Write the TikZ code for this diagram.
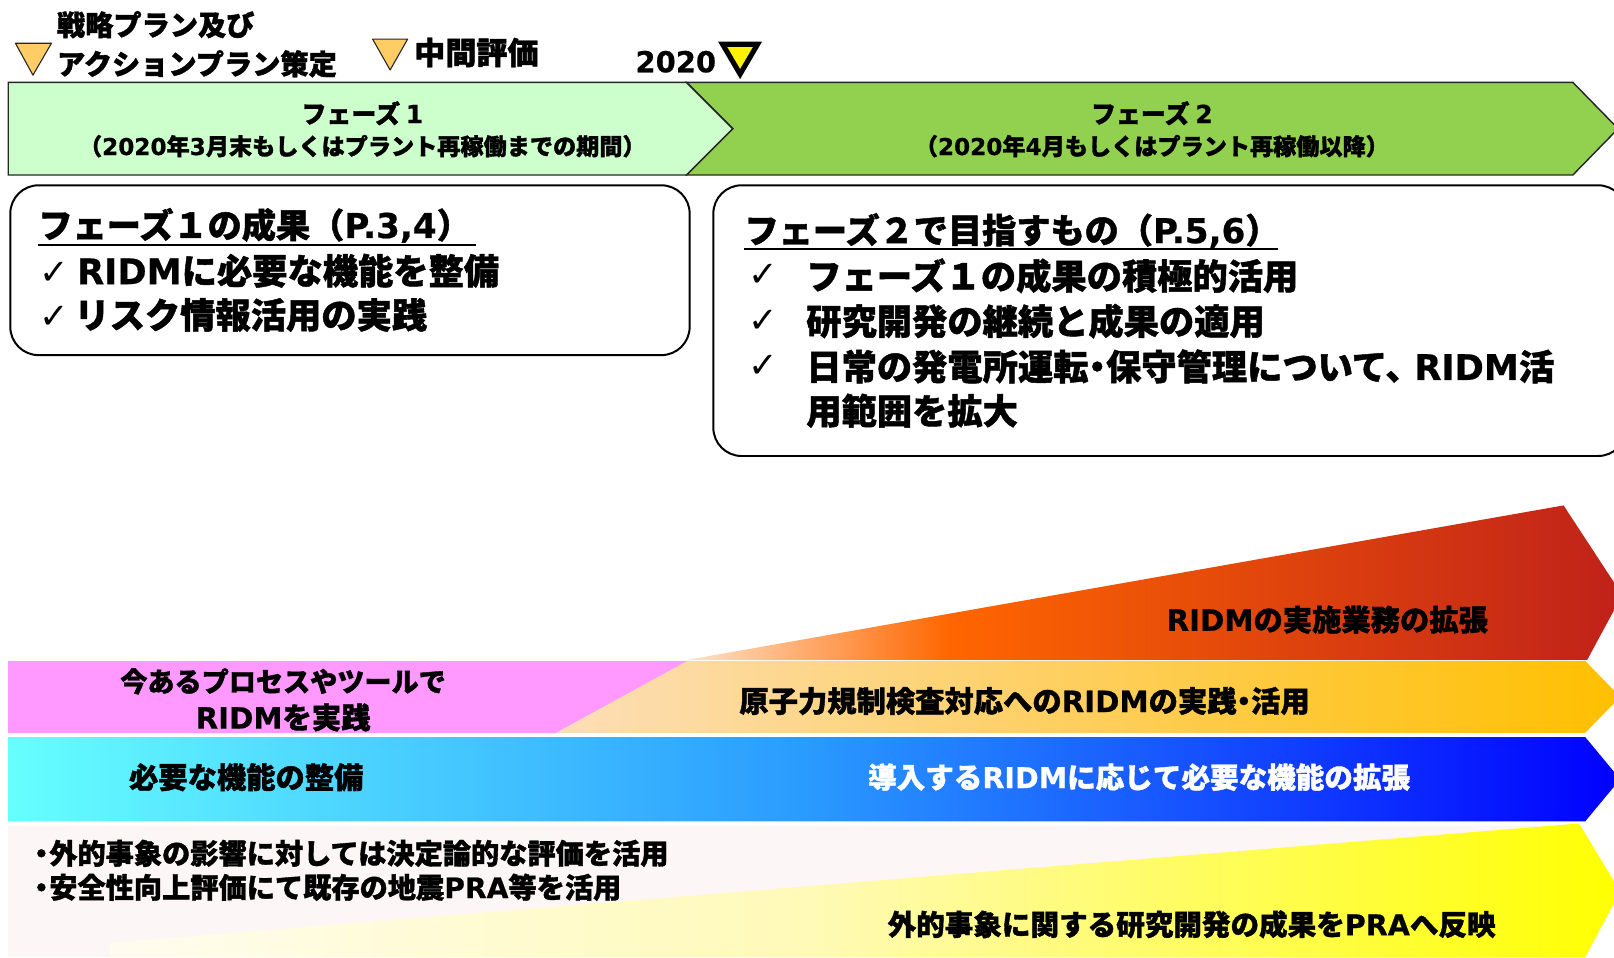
\documentclass[tikz,border=0pt]{standalone}
\usepackage{fontspec}
\setmainfont{Noto Sans CJK JP}[BoldFeatures={FakeBold=1.3}]
\newfontfamily\latf{DejaVu Sans}[BoldFeatures={FakeBold=0.6}]
\newfontfamily\symf{DejaVu Sans}
\newcommand\lt[1]{{\latf #1}}
\newcommand\ck{{\symf\mdseries ✓}}
\newcommand\nd{\hspace{-0.25em}・\hspace{-0.25em}}
\newcommand\bd{\hspace{-0.25em}・\hspace{-0.22em}}
\definecolor{pgreenA}{HTML}{CCFFCC}
\definecolor{pgreenB}{HTML}{92D050}
\definecolor{trior}{HTML}{FFCC66}
\definecolor{pinkbar}{HTML}{FF99FF}
\definecolor{palebg}{HTML}{FDF6F6}
\pgfdeclarehorizontalshading{redsh}{100bp}{rgb(0bp)=(1,0.89,0.78); rgb(25bp)=(1,0.89,0.78); rgb(39bp)=(1,0.4,0); rgb(75bp)=(0.75,0.13,0.10); rgb(100bp)=(0.75,0.13,0.10)}
\pgfdeclarehorizontalshading{orsh}{100bp}{rgb(0bp)=(0.99,0.87,0.72); rgb(25bp)=(0.99,0.87,0.72); rgb(75bp)=(1,0.75,0); rgb(100bp)=(1,0.75,0)}
\pgfdeclarehorizontalshading{blsh}{100bp}{rgb(0bp)=(0.4,1,1); rgb(25bp)=(0.4,1,1); rgb(49.6bp)=(0.165,0.61,1); rgb(75bp)=(0,0,1); rgb(100bp)=(0,0,1)}
\pgfdeclarehorizontalshading{ylsh}{100bp}{rgb(0bp)=(1,0.99,0.94); rgb(25bp)=(1,0.99,0.94); rgb(48bp)=(1,0.98,0.72); rgb(75bp)=(1,1,0); rgb(100bp)=(1,1,0)}
\begin{document}
\begin{tikzpicture}[x=0.02cm,y=-0.02cm,
  every node/.style={inner sep=0pt},
  tri/.style={fill=trior,draw=black!85,line width=0.6pt,line join=round},
  toplbl/.style={anchor=west,font=\fontsize{15.6}{18}\selectfont\bfseries},
  midlbl/.style={anchor=west,font=\fontsize{17.2}{20}\selectfont\bfseries},
  yrlbl/.style={anchor=east,font=\fontsize{16}{19}\selectfont\bfseries\latf},
  phasebar/.style={draw=black!85,line width=0.8pt,line join=miter},
  phh/.style={font=\fontsize{13.8}{16}\selectfont\bfseries},
  phs/.style={font=\fontsize{12.8}{15}\selectfont\bfseries},
  roundbox/.style={draw=black,fill=white,line width=1.1pt,rounded corners=0.55cm},
  boxt/.style={anchor=west,font=\fontsize{18.9}{22}\selectfont\bfseries},
  boxi/.style={anchor=west,font=\fontsize{19.5}{23}\selectfont\bfseries},
  uline/.style={line width=1.1pt},
  bart/.style={font=\fontsize{16.2}{19}\selectfont\bfseries},
  bartw/.style={font=\fontsize{15.8}{19}\selectfont\bfseries},
  pinkt/.style={font=\fontsize{15}{18}\selectfont\bfseries},
  bullt/.style={anchor=west,font=\fontsize{15.6}{18}\selectfont\bfseries}]
\useasboundingbox (0,0) rectangle (1568,930);
\fill[white] (0,0) rectangle (1568,930);
\clip (0,0) rectangle (1568,930);

% top markers
\draw[tri] (15,42) -- (50,42) -- (32,73) -- cycle;
\node[toplbl] (lblA1) at (55,24) {戦略プラン及び};
\node[toplbl] (lblA2) at (55,62) {アクションプラン策定};
\draw[tri] (362,38) -- (396,38) -- (379,68) -- cycle;
\node[midlbl] (lblB) at (402,51) {中間評価};
\node[yrlbl] (lblC) at (696,60) {2020};
\draw[fill=yellow,draw=black,line width=2.8pt,line join=miter] (702,43) -- (736,43) -- (719,72) -- cycle;

% phase bars
\draw[phasebar,fill=pgreenA] (8,80) -- (667,80) -- (712,125) -- (667,170) -- (8,170) -- cycle;
\draw[phasebar,fill=pgreenB] (667,80) -- (1528,80) -- (1572,125) -- (1528,170) -- (667,170) -- (712,125) -- cycle;
\node[phh] (p1h) at (352,110) {フェーズ \lt{1}};
\node[phs] (p1s) at (352,142) {（\lt{2020}年\lt{3}月末もしくはプラント再稼働までの期間）};
\node[phh] (p2h) at (1119,110) {フェーズ \lt{2}};
\node[phs] (p2s) at (1119,142) {（\lt{2020}年\lt{4}月もしくはプラント再稼働以降）};

% boxes
\draw[roundbox] (10,180) rectangle (670,345);
\draw[roundbox] (693,180) rectangle (1580,443);
\node[boxt] (b1t) at (37,219) {フェーズ１の成果（\lt{P.3,4}）};
\coordinate (u1a) at (37,238); \coordinate (u1b) at (462,238);
\draw[uline] (u1a) -- (u1b);
\node[boxi] (b1a) at (38,263) {\ck\ \lt{RIDM}に必要な機能を整備};
\node[boxi] (b1b) at (38,306) {\ck\hspace{3pt}リスク情報活用の実践};

\node[boxt] (b2t) at (723,224) {フェーズ２で目指すもの（\lt{P.5,6}）};
\coordinate (u2a) at (723,242); \coordinate (u2b) at (1242,242);
\draw[uline] (u2a) -- (u2b);
\node[boxi] (k1) at (727,268) {\ck};
\node[boxi] (k2) at (727,312) {\ck};
\node[boxi] (k3) at (727,356) {\ck};
\node[boxi] (b2a) at (783,268) {フェーズ１の成果の積極的活用};
\node[boxi] (b2b) at (783,312) {研究開発の継続と成果の適用};
\node[boxi] (b2c) at (783,356) {日常の発電所運転\nd 保守管理について、\hspace{-0.18em}\lt{RIDM}活};
\node[boxi] (b2d) at (783,399) {用範囲を拡大};

% bars
\shade[shading=redsh] (668,641) -- (1519,491) -- (1576,578) -- (1542,641) -- cycle;
\fill[pinkbar] (8,642) rectangle (672,712);
\shade[shading=orsh] (540,712) -- (668,642) -- (1540,642) -- (1574,677) -- (1540,712) -- cycle;
\shade[shading=blsh] (8,716) -- (1540,716) -- (1574,757) -- (1540,798) -- (8,798) -- cycle;
\fill[palebg] (8,802) rectangle (1536,930);
\shade[shading=ylsh] (107,916) -- (1534,800) -- (1574,866) -- (1540,930) -- (107,930) -- cycle;

\node[bart,anchor=west] (r1) at (1133,602) {\lt{RIDM}の実施業務の拡張};
\node[pinkt] (pk1) at (275,662) {今あるプロセスやツールで};
\node[bart] (pk2) at (275,697) {\lt{RIDM}を実践};
\node[bart,anchor=west] (o1) at (718,681) {原子力規制検査対応への\lt{RIDM}の実践\nd 活用};
\node[bart,anchor=west] (bl1) at (125,755) {必要な機能の整備};
\node[bartw,anchor=west,text=white] (bl2) at (843,755) {導入する\lt{RIDM}に応じて必要な機能の拡張};
\node[bullt] (w1) at (33,829) {\bd 外的事象の影響に対しては決定論的な評価を活用};
\node[bullt] (w2) at (33,862) {\bd 安全性向上評価にて既存の地震\lt{PRA}等を活用};
\node[bartw,anchor=west] (y1) at (862,898) {外的事象に関する研究開発の成果を\lt{PRA}へ反映};
\end{tikzpicture}
\end{document}
